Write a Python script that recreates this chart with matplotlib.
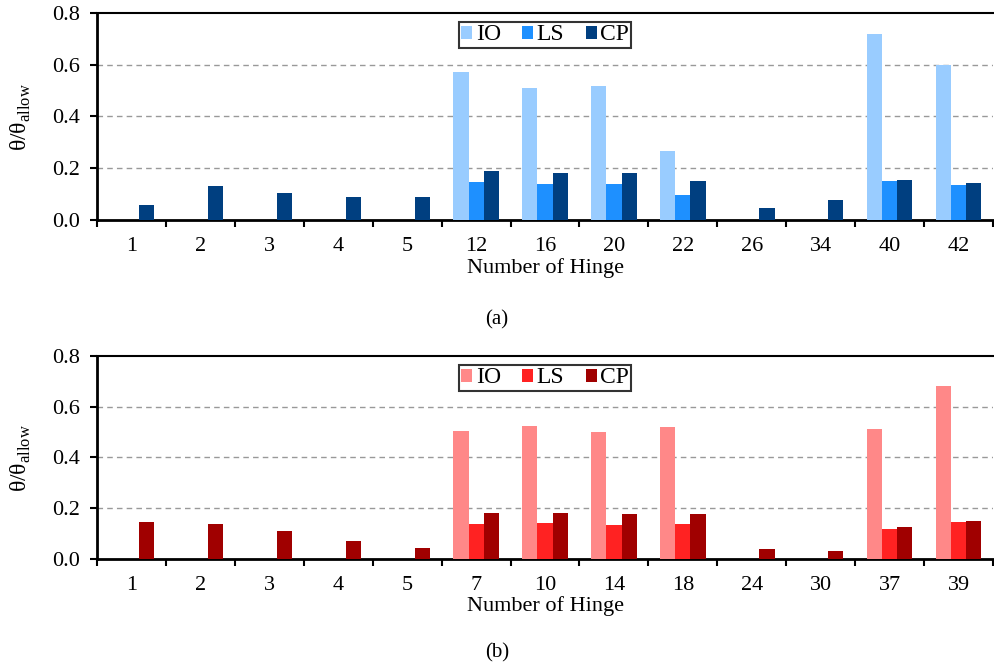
import matplotlib
matplotlib.use("Agg")
import matplotlib.pyplot as plt
import numpy as np

plt.rcParams['font.family'] = ['Liberation Serif', 'DejaVu Serif']
plt.rcParams['mathtext.fontset'] = 'custom'
plt.rcParams['mathtext.rm'] = 'Liberation Serif'

# (a) hinges and ratios
hinges_a = ['1', '2', '3', '4', '5', '12', '16', '20', '22', '26', '34', '40', '42']
io_a = [0, 0, 0, 0, 0, 0.572, 0.509, 0.519, 0.267, 0, 0, 0.718, 0.598]
ls_a = [0, 0, 0, 0, 0, 0.148, 0.139, 0.139, 0.098, 0, 0, 0.152, 0.135]
cp_a = [0.058, 0.131, 0.103, 0.089, 0.090, 0.189, 0.183, 0.182, 0.150, 0.045, 0.076, 0.153, 0.143]

# (b) hinges and ratios
hinges_b = ['1', '2', '3', '4', '5', '7', '10', '14', '18', '24', '30', '37', '39']
io_b = [0, 0, 0, 0, 0, 0.506, 0.524, 0.499, 0.522, 0, 0, 0.512, 0.680]
ls_b = [0, 0, 0, 0, 0, 0.139, 0.141, 0.135, 0.137, 0, 0, 0.117, 0.146]
cp_b = [0.146, 0.137, 0.110, 0.070, 0.045, 0.180, 0.180, 0.176, 0.179, 0.038, 0.032, 0.125, 0.151]

blues = ['#99CCFF', '#1E90FF', '#003F80']
reds = ['#FF8888', '#FF2222', '#A00000']

fig = plt.figure(figsize=(9.94, 6.69), dpi=100)
ax1 = fig.add_axes([0.0976, 0.6712, 0.9014, 0.3094])
ax2 = fig.add_axes([0.0976, 0.1644, 0.9014, 0.3035])


def draw(ax, labels, series, colors, xlabel_y):
    x = np.arange(len(labels))
    w = 0.22
    names = ['IO', 'LS', 'CP']
    for i, (vals, c, n) in enumerate(zip(series, colors, names)):
        ax.bar(x + (i - 1) * w, vals, w, color=c, linewidth=0, label=n, zorder=3)
    ax.set_xlim(-0.5, len(labels) - 0.5)
    ax.set_ylim(0, 0.8)
    ax.set_yticks([0, 0.2, 0.4, 0.6, 0.8])
    ax.set_yticklabels(['0.0', '0.2', '0.4', '0.6', '0.8'])
    ax.set_xticks(x)
    ax.set_xticklabels(labels)
    ax.set_xticks(np.arange(len(labels) + 1) - 0.5, minor=True)
    ax.tick_params(axis='x', which='major', length=0, pad=12, labelsize=16)
    ax.tick_params(axis='x', which='minor', length=5, width=1.5, direction='out')
    ax.tick_params(axis='y', length=5, width=1.5, pad=7, labelsize=16)
    for y in [0.2, 0.4, 0.6]:
        ax.axhline(y, color='#999999', ls=(0, (4, 3)), lw=1, zorder=1)
    ax.spines['left'].set_linewidth(2)
    ax.spines['bottom'].set_linewidth(2)
    ax.spines['top'].set_linewidth(1.5)
    ax.spines['right'].set_visible(False)
    ax.set_xlabel('Number of Hinge', fontsize=16)
    ax.xaxis.set_label_coords(0.5, xlabel_y)
    ax.set_ylabel('θ/θ$_{\\rm allow}$', fontsize=17)
    ax.yaxis.set_label_coords(-0.072, 0.5)
    leg = ax.legend(loc='upper center', ncol=3, frameon=True, fancybox=False,
                    edgecolor='black', fontsize=17, handlelength=0.47,
                    handleheight=0.47, handletextpad=0.15, columnspacing=0.9,
                    borderpad=0.1, borderaxespad=0.3,
                    bbox_to_anchor=(0.5, 0.99))
    leg.get_frame().set_linewidth(1.5)


draw(ax1, hinges_a, [io_a, ls_a, cp_a], blues, -0.185)
draw(ax2, hinges_b, [io_b, ls_b, cp_b], reds, -0.185)

fig.text(0.5, 1 - 320 / 669, '(a)', ha='center', va='center', fontsize=15)
fig.text(0.5, 1 - 653 / 669, '(b)', ha='center', va='center', fontsize=15)

fig.savefig('out.png', dpi=100)
